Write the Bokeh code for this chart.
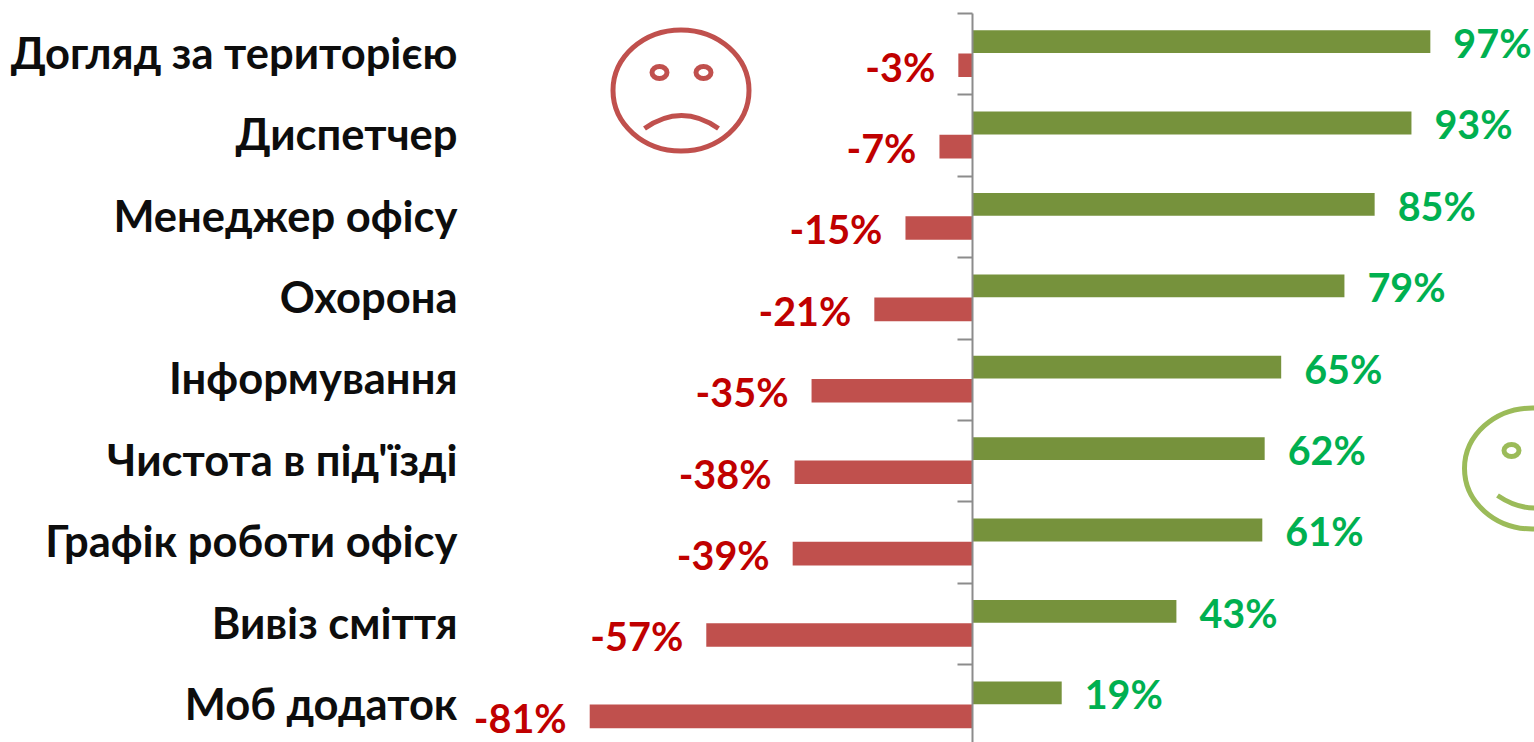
from bokeh.plotting import figure
from bokeh.models import LinearAxis, FixedTicker, ColumnDataSource, Range1d
from bokeh.core.properties import value
from bokeh.embed import file_html
from bokeh.resources import INLINE

categories = ["Догляд за територією", "Диспетчер", "Менеджер офісу", "Охорона", "Інформування",
              "Чистота в під'їзді", "Графік роботи офісу", "Вивіз сміття", "Моб додаток"]
positive = [97, 93, 85.2, 78.8, 65.4, 61.9, 61.4, 43.2, 18.9]
negative = [-3, -7, -14.2, -20.8, -34.1, -37.7, -38.1, -56.4, -81.1]
positive_labels = ["97%", "93%", "85%", "79%", "65%", "62%", "61%", "43%", "19%"]
negative_labels = ["-3%", "-7%", "-15%", "-21%", "-35%", "-38%", "-39%", "-57%", "-81%"]

PX_PER_PCT = 4.72
ROW = 81.4
AX_X, TOP_Y = 972, 13
W, H = 1534, 742

def dx(px):
    return (px - AX_X) / PX_PER_PCT

def dy(py):
    return (py - TOP_Y) / ROW

p = figure(width=W, height=H, output_backend="svg", toolbar_location=None,
           x_range=Range1d(dx(0), dx(W)), y_range=Range1d(dy(H), dy(0)),
           x_axis_type=None, y_axis_type=None, min_border_left=0, min_border_right=0,
           min_border_top=0, min_border_bottom=0, outline_line_color=None)
p.grid.visible = False

rows = list(range(len(categories)))
src = ColumnDataSource(dict(
    pos_y=[r + 0.345 for r in rows], neg_y=[r + 0.635 for r in rows],
    pos=positive, neg=negative,
    pos_t=positive_labels, neg_t=negative_labels,
    zero=[0] * len(rows)))

p.hbar(y="pos_y", left="zero", right="pos", height=0.28, source=src, fill_color="#76923C", line_color=None)
p.hbar(y="neg_y", left="neg", right="zero", height=0.29, source=src, fill_color="#C0504D", line_color=None)

p.text(x="pos", y="pos_y", text="pos_t", source=src, x_offset=23, y_offset=1, text_align="left",
       text_baseline="middle", text_color="#00B050", text_font=value("Lato"), text_font_style="bold",
       text_font_size="39.5px")
p.text(x="neg", y="neg_y", text="neg_t", source=src, x_offset=-23, y_offset=1, text_align="right",
       text_baseline="middle", text_color="#C00000", text_font=value("Lato"), text_font_style="bold",
       text_font_size="39.5px")

# category labels, on an axis that stands inside the frame
label_axis = LinearAxis(fixed_location=dx(462), ticker=FixedTicker(ticks=[r + 0.47 for r in rows]),
                        major_label_overrides={r + 0.47: c for r, c in zip(rows, categories)})
label_axis.axis_line_color = None
label_axis.major_tick_line_color = None
label_axis.minor_tick_line_color = None
label_axis.major_tick_out = 0
label_axis.major_tick_in = 0
label_axis.major_label_standoff = 5
label_axis.major_label_text_font = "Lato"
label_axis.major_label_text_font_style = "bold"
label_axis.major_label_text_font_size = "43.5px"
label_axis.major_label_text_color = "#0D0D0D"
p.add_layout(label_axis, "left")

# zero axis with category-boundary ticks
zero_axis = LinearAxis(fixed_location=0, ticker=FixedTicker(ticks=rows),
                       bounds=(0, dy(H)))
zero_axis.major_label_text_font_size = "0px"
zero_axis.major_label_text_color = None
zero_axis.axis_line_color = "#8C8C8C"
zero_axis.axis_line_width = 2
zero_axis.major_tick_line_color = "#8C8C8C"
zero_axis.major_tick_line_width = 2
zero_axis.major_tick_in = 0
zero_axis.major_tick_out = 15
zero_axis.minor_tick_line_color = None
p.add_layout(zero_axis, "left")

# faces
RED, GRN = "#C0504D", "#9BBB59"
def face(cx, cy, w, h, color, eyes, mouth):
    p.ellipse(x=[dx(cx)], y=[dy(cy)], width=w, height=h, width_units="screen", height_units="screen",
              fill_color=None, line_color=color, line_width=5)
    for ex, ey in eyes:
        p.ellipse(x=[dx(ex)], y=[dy(ey)], width=15, height=12, width_units="screen", height_units="screen",
                  fill_color=None, line_color=color, line_width=5)
    (x0, y0), (xc, yc), (x1, y1) = mouth
    p.quadratic(x0=[dx(x0)], y0=[dy(y0)], x1=[dx(x1)], y1=[dy(y1)], cx=[dx(xc)], cy=[dy(yc)],
                line_color=color, line_width=5)

face(680.5, 90, 136, 121, RED, [(659, 72), (703, 72)], ((644, 128), (681, 102), (718, 128)))
face(1532, 468, 136, 121, GRN, [(1511, 450)], ((1497, 495), (1534, 520), (1571, 495)))

open("out.html", "w").write(file_html(p, INLINE))
